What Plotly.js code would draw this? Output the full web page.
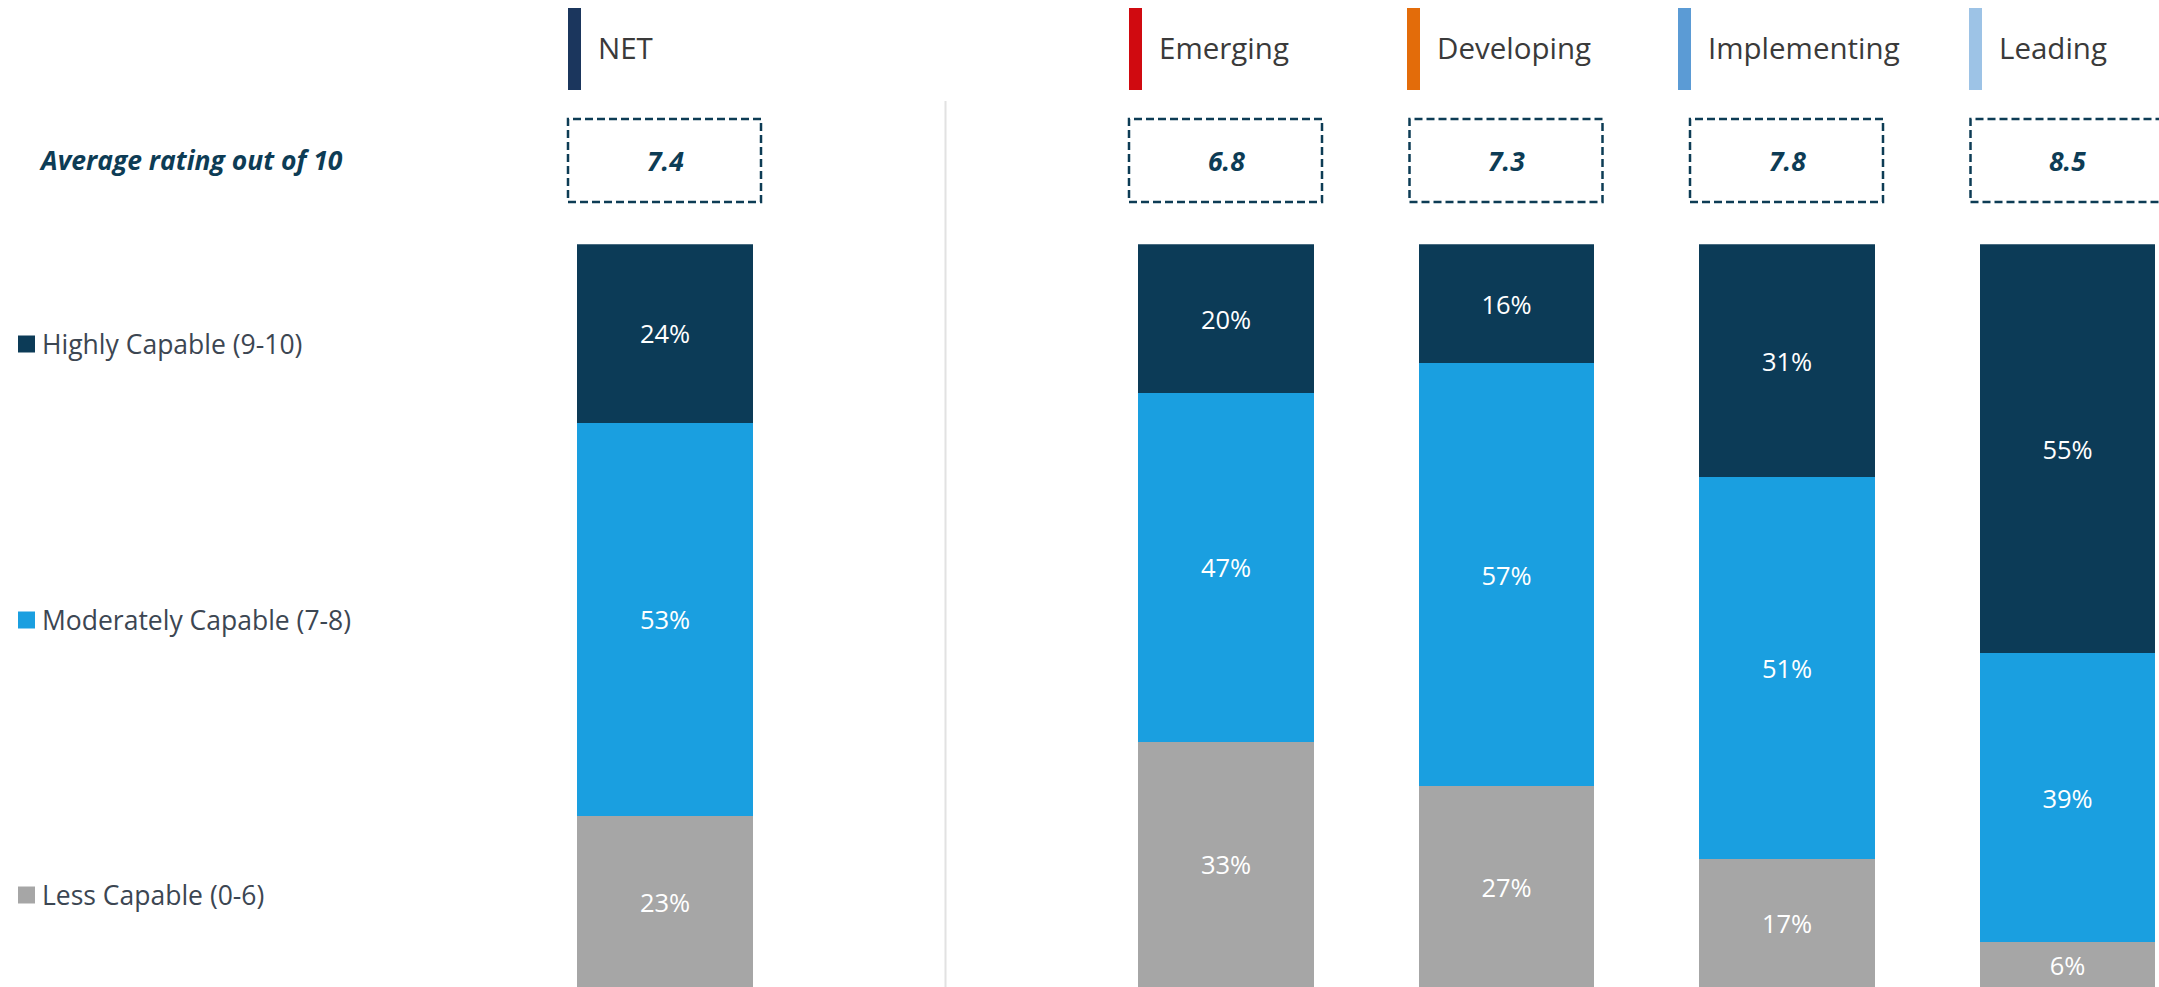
<!DOCTYPE html>
<html>
<head>
<meta charset="utf-8">
<script src="https://cdn.plot.ly/plotly-3.0.1.min.js"></script>
<style>
  html, body { margin: 0; padding: 0; background: #ffffff; }
  #chart { width: 2159px; height: 987px; }
</style>
</head>
<body>
<div id="chart"></div>
<script>
// ---- Data ----
const categories = ['NET', 'Emerging', 'Developing', 'Implementing', 'Leading'];
const avgRating = [7.4, 6.8, 7.3, 7.8, 8.5];
const lessCapable = [23, 33, 27, 17, 6];
const moderatelyCapable = [53, 47, 57, 51, 39];
const highlyCapable = [24, 20, 16, 31, 55];
const seriesNames = ['Less Capable (0-6)', 'Moderately Capable (7-8)', 'Highly Capable (9-10)'];
const avgLabel = 'Average rating out of 10';

// ---- Styles ----
const W = 2159, H = 987;
const seriesColors = ['#a6a6a6', '#1a9fe0', '#0c3b57'];
const headerColors = ['#1b365d', '#d00a10', '#e36c0a', '#5b9bd5', '#9dc3e6'];
const headerMarkerOffset = [-97, -97, -99.5, -109, -98.5];   // px from bar centre
const navy = '#0d3c55';
const FONT = 'Open Sans, Noto Sans, sans-serif';

// NET sits apart from the four maturity groups (one empty slot between them)
const xpos = categories.map((c, i) => (i === 0 ? 0 : i + 1));
const py = px => 1 - px / H;           // pixel row -> paper y

const seriesValues = [lessCapable, moderatelyCapable, highlyCapable];
const traces = seriesValues.map((vals, k) => ({
  type: 'bar',
  name: seriesNames[k],
  x: xpos,
  y: vals,
  width: 0.626,
  marker: { color: seriesColors[k], line: { width: 0 } },
  text: vals.map(v => v + '%'),
  texttemplate: '%{text}',
  textposition: 'inside',
  insidetextanchor: 'middle',
  textangle: 0,
  constraintext: 'none',
  textfont: { family: FONT, size: 25.5, color: '#ffffff' },
  hoverinfo: 'skip'
}));

const shapes = [];
const annotations = [];

// divider between NET and the groups
shapes.push({
  type: 'line', xref: 'x', yref: 'paper',
  x0: (xpos[0] + xpos[1]) / 2, x1: (xpos[0] + xpos[1]) / 2,
  y0: py(101), y1: 0,
  line: { color: '#e2e2e2', width: 2 }
});

categories.forEach((c, i) => {
  const mo = headerMarkerOffset[i];
  // coloured header marker
  shapes.push({
    type: 'rect', xref: 'x', yref: 'paper', xsizemode: 'pixel', xanchor: xpos[i],
    x0: mo, x1: mo + 13, y0: py(90), y1: py(8),
    fillcolor: headerColors[i], line: { width: 0 }
  });
  annotations.push({
    text: c, xref: 'x', yref: 'paper', x: xpos[i], xshift: mo + 28, xanchor: 'left',
    y: py(47), yanchor: 'middle', showarrow: false,
    font: { family: FONT, size: 29.5, color: '#3a3a3a' }
  });
  // dashed rating box
  shapes.push({
    type: 'rect', xref: 'x', yref: 'paper', xsizemode: 'pixel', xanchor: xpos[i],
    x0: -97, x1: 96, y0: py(202), y1: py(119),
    fillcolor: 'rgba(0,0,0,0)',
    line: { color: navy, width: 2.5, dash: '8px,4px' }
  });
  annotations.push({
    text: avgRating[i].toFixed(1), xref: 'x', yref: 'paper', x: xpos[i],
    y: py(161), yanchor: 'middle', showarrow: false,
    font: { family: FONT, size: 26.5, color: navy, weight: 'bold', style: 'italic' }
  });
});

annotations.push({
  text: avgLabel, xref: 'paper', yref: 'paper', x: 37 / W, xanchor: 'left',
  y: py(160), yanchor: 'middle', showarrow: false,
  font: { family: FONT, size: 26.5, color: navy, weight: 'bold', style: 'italic' }
});

// left-hand legend (top to bottom: Highly, Moderately, Less)
const legendRows = [344, 620, 895];
[2, 1, 0].forEach((k, r) => {
  const yc = legendRows[r];
  shapes.push({
    type: 'rect', xref: 'paper', yref: 'paper',
    x0: 18 / W, x1: 35 / W, y0: py(yc + 8.5), y1: py(yc - 8.5),
    fillcolor: seriesColors[k], line: { width: 0 }
  });
  annotations.push({
    text: seriesNames[k], xref: 'paper', yref: 'paper', x: 40 / W, xanchor: 'left',
    y: py(yc), yanchor: 'middle', showarrow: false,
    font: { family: FONT, size: 26.5, color: '#3c4652' }
  });
});

const layout = {
  width: W, height: H,
  margin: { l: 0, r: 0, t: 0, b: 0, pad: 0 },
  paper_bgcolor: '#ffffff', plot_bgcolor: '#ffffff',
  barmode: 'stack', barnorm: 'percent',
  showlegend: false,
  xaxis: { range: [-665 / 280.5, (W - 665) / 280.5], visible: false, fixedrange: true },
  yaxis: { domain: [0, 1 - 244.3 / H], range: [0, 100], visible: false, fixedrange: true },
  shapes: shapes,
  annotations: annotations,
  font: { family: FONT }
};

Plotly.newPlot('chart', traces, layout, { displayModeBar: false, staticPlot: true });
</script>
</body>
</html>
